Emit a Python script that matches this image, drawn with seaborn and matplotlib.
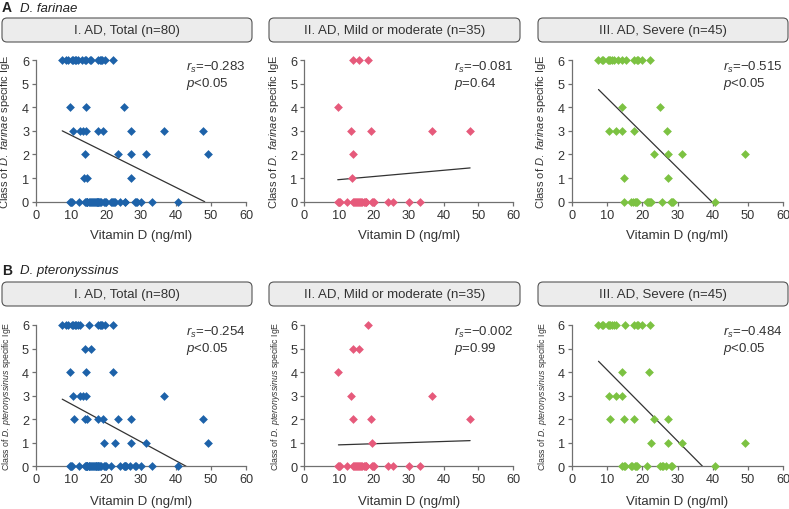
import numpy as np
import pandas as pd
import matplotlib
matplotlib.use("Agg")
import matplotlib.pyplot as plt
from matplotlib.patches import FancyBboxPatch
import seaborn as sns

# ---------------- data ----------------
zero_mild_vd = [9.7, 10.0, 10.2, 12.4, 14.0, 14.3, 14.5, 14.7, 15.0, 15.3, 15.6, 16.0, 16.3,
                16.6, 17.0, 17.3, 17.6, 17.8, 19.5, 19.8, 20.0, 24.1, 25.4, 30.1, 33.2]

# D. farinae
far_mild_vd = [14.1, 15.8, 18.3, 9.8, 13.4, 19.1, 36.6, 47.6, 13.9, 13.8] + zero_mild_vd
far_mild_ige = [6, 6, 6, 4, 3, 3, 3, 3, 2, 1] + [0] * 25

far_sev_vd = [7.4, 8.5, 9.0, 10.4, 10.7, 11.0, 11.5, 12.0, 13.0, 14.2, 15.3, 17.8, 18.5, 18.8, 19.8, 22.1,
              14.2, 25.0,
              10.6, 12.7, 14.4, 17.8, 27.0,
              23.3, 27.2, 31.4, 49.0,
              14.7, 27.2,
              14.7, 16.8, 17.5, 18.0, 18.3, 18.6, 21.4, 21.7, 21.9, 22.2, 22.5, 25.5, 28.2, 28.5, 28.8, 40.6]
far_sev_ige = [6] * 16 + [4] * 2 + [3] * 5 + [2] * 4 + [1] * 2 + [0] * 16

# D. pteronyssinus
pte_mild_vd = [18.2, 14.1, 15.8, 9.8, 13.4, 36.6, 13.9, 19.1, 47.6, 19.5] + zero_mild_vd
pte_mild_ige = [6, 5, 5, 4, 3, 3, 2, 2, 2, 1] + [0] * 25

pte_sev_vd = [7.4, 8.5, 9.0, 10.4, 10.7, 11.0, 11.5, 12.0, 12.7, 15.1, 17.8, 18.5, 18.8, 19.8, 22.1,
              14.2, 21.9,
              10.6, 12.7, 14.4,
              10.8, 14.7, 17.8, 23.3, 27.2,
              22.5, 27.2, 31.4, 49.0,
              14.4, 14.7, 15.0, 16.8, 17.2, 18.0, 18.3, 18.6, 21.4, 25.0, 25.5, 25.8, 26.8, 28.2, 28.5, 40.6]
pte_sev_ige = [6] * 15 + [4] * 2 + [3] * 3 + [2] * 5 + [1] * 4 + [0] * 16

# trend lines (start/end)
far_trend_x = {"total": [7.5, 48.2], "mild": [9.6, 47.6], "severe": [7.6, 39.7]}
far_trend_y = {"total": [3.0, 0.0], "mild": [0.93, 1.43], "severe": [4.75, 0.0]}
pte_trend_x = {"total": [7.5, 42.9], "mild": [9.8, 47.6], "severe": [7.6, 37.1]}
pte_trend_y = {"total": [2.85, 0.0], "mild": [0.91, 1.09], "severe": [4.46, 0.0]}

group_titles = {"total": "I. AD, Total (n=80)",
                "mild": "II. AD, Mild or moderate (n=35)",
                "severe": "III. AD, Severe (n=45)"}
far_stats = {"total": ("\u22120.283", "<0.05"), "mild": ("\u22120.081", "=0.64"), "severe": ("\u22120.515", "<0.05")}
pte_stats = {"total": ("\u22120.254", "<0.05"), "mild": ("\u22120.002", "=0.99"), "severe": ("\u22120.484", "<0.05")}
group_colors = {"total": "#1d62a9", "mild": "#e65a7b", "severe": "#7cc242"}

x_ticks = [0, 10, 20, 30, 40, 50, 60]
y_ticks = [0, 1, 2, 3, 4, 5, 6]

# ---------------- build tables ----------------
def make_df(mvd, mige, svd, sige):
    mild = pd.DataFrame({"vitd": mvd, "ige": mige})
    sev = pd.DataFrame({"vitd": svd, "ige": sige})
    tot = pd.concat([mild, sev], ignore_index=True)
    return {"total": tot, "mild": mild, "severe": sev}

allergens = [
    dict(letter="A", name="D. farinae", data=make_df(far_mild_vd, far_mild_ige, far_sev_vd, far_sev_ige),
         tx=far_trend_x, ty=far_trend_y, stats=far_stats,
         ylabel=r"Class of $\it{D.\ farinae}$ specific IgE", ylsize=8.0, ylx=-0.112),
    dict(letter="B", name="D. pteronyssinus", data=make_df(pte_mild_vd, pte_mild_ige, pte_sev_vd, pte_sev_ige),
         tx=pte_trend_x, ty=pte_trend_y, stats=pte_stats,
         ylabel=r"Class of $\it{D.\ pteronyssinus}$ specific IgE", ylsize=6.3, ylx=-0.108),
]

# ---------------- style ----------------
sns.set_theme(style="ticks")
plt.rcParams["font.family"] = ["Liberation Sans", "DejaVu Sans"]
plt.rcParams["mathtext.fontset"] = "custom"
plt.rcParams["mathtext.rm"] = "Liberation Sans"
plt.rcParams["mathtext.it"] = "Liberation Sans:italic"
plt.rcParams["mathtext.sf"] = "Liberation Sans"

W, H = 789, 510
fig = plt.figure(figsize=(W / 100, H / 100), dpi=100)

col_left = [36, 304.3, 571.7]
col_width = [210, 209, 211.6]
row_top = [61, 326]      # y=6 pixel
row_bottom = [202.7, 467.3]  # y=0 pixel
head_x = [(2, 252), (269, 520), (538, 788)]
head_y = [(19, 43), (283, 307)]
letter_y = [8.5, 271]

spine_col = "#707070"
text_col = "#333333"

for r, al in enumerate(allergens):
    fig.text(2 / W, 1 - letter_y[r] / H, al["letter"], fontsize=10, fontweight="bold",
             va="center", ha="left", color="#222222")
    fig.text(20 / W, 1 - letter_y[r] / H, al["name"], fontsize=9.5, style="italic",
             va="center", ha="left", color="#222222")
    for c, g in enumerate(["total", "mild", "severe"]):
        # header box
        x0, x1 = head_x[c]
        y0, y1 = head_y[r]
        box = FancyBboxPatch((x0 / 100, (H - y1) / 100), (x1 - x0) / 100, (y1 - y0) / 100,
                             boxstyle="round,pad=0,rounding_size=0.05",
                             transform=fig.dpi_scale_trans, facecolor="#ececec",
                             edgecolor="#555555", linewidth=0.8)
        fig.add_artist(box)
        fig.text((x0 + x1) / 2 / W, 1 - (y0 + y1) / 2 / H, group_titles[g], fontsize=9.5,
                 ha="center", va="center", color=text_col)

        ax = fig.add_axes([col_left[c] / W, 1 - row_bottom[r] / H, col_width[c] / W,
                           (row_bottom[r] - row_top[r]) / H])
        ax.set_facecolor("none")
        d = al["data"][g]
        sns.scatterplot(data=d, x="vitd", y="ige", marker="D", s=20, color=group_colors[g],
                        linewidth=0, ax=ax, clip_on=False, legend=False, zorder=3)
        sns.lineplot(x=al["tx"][g], y=al["ty"][g], color="#333333", linewidth=0.9, ax=ax,
                     zorder=2)
        ax.set_xlim(0, 60)
        ax.set_ylim(0, 6)
        ax.set_xticks(x_ticks)
        ax.set_yticks(y_ticks)
        sns.despine(ax=ax)
        for s in ["left", "bottom"]:
            ax.spines[s].set_color(spine_col)
            ax.spines[s].set_linewidth(0.9)
        ax.tick_params(axis="both", length=3, width=0.9, color=spine_col, labelsize=9.2,
                       labelcolor=text_col, pad=2)
        ax.set_xlabel("Vitamin D (ng/ml)", fontsize=9.5, color=text_col)
        ax.xaxis.set_label_coords(0.5, -0.19 if r == 0 else -0.2)
        ax.set_ylabel(al["ylabel"], fontsize=al["ylsize"], color=text_col)
        ax.yaxis.set_label_coords(al["ylx"], 0.5)
        rs, p = al["stats"][g]
        ax.text(43.0, 5.72, r"$r_s$=" + rs, fontsize=9.5, color=text_col, va="center", ha="left")
        ax.text(43.0, 5.02, r"$p$" + p, fontsize=9.5, color=text_col, va="center", ha="left")

fig.savefig("out.png", dpi=100)
